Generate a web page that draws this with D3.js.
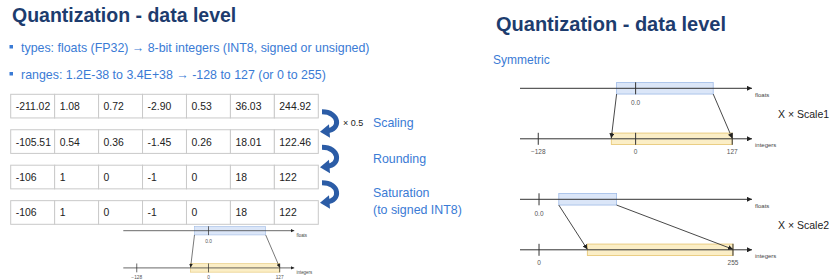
<!DOCTYPE html>
<html>
<head>
<meta charset="utf-8">
<script src="https://cdn.jsdelivr.net/npm/d3@7"></script>
<style>
  body { margin: 0; background: #fff; }
  svg { display: block; }
  text { font-family: "Liberation Sans", Arial, sans-serif; }
</style>
</head>
<body>
<svg id="chart" width="831" height="279"></svg>
<script>
// slide content
const title = 'Quantization - data level';
const bullets = [
  'types: floats (FP32) \u2192 8-bit integers (INT8, signed or unsigned)',
  'ranges: 1.2E-38 to 3.4E+38 \u2192 -128 to 127 (or 0 to 255)'
];
const tableRows = [
  ['-211.02', '1.08', '0.72', '-2.90', '0.53', '36.03', '244.92'],
  ['-105.51', '0.54', '0.36', '-1.45', '0.26', '18.01', '122.46'],
  ['-106', '1', '0', '-1', '0', '18', '122'],
  ['-106', '1', '0', '-1', '0', '18', '122']
];
const steps = [['Scaling'], ['Rounding'], ['Saturation', '(to signed INT8)']];
const stepFactors = ['\u00d7 0.5', '', ''];

// number lines, all in integer units
const symmetric = { domain: [-152, 153], floatTicks: [0], floatBox: [-25, 102], intTicks: [-128, 0, 127], intBox: [-32, 127], label: 'X \u00d7 Scale1' };
const asymmetric = { domain: [-25, 280], floatTicks: [0], floatBox: [26, 102], intTicks: [0, 255], intBox: [63.5, 255], label: 'X \u00d7 Scale2' };

const svg = d3.select('#chart');
const navy = '#1d3c6e', blue = '#3a7bd5', arrowBlue = '#2b5ca6';

svg.append('defs').append('marker')
  .attr('id', 'tip').attr('viewBox', '0 0 6 6')
  .attr('refX', 6).attr('refY', 3)
  .attr('markerWidth', 5).attr('markerHeight', 5)
  .attr('markerUnits', 'userSpaceOnUse')
  .attr('orient', 'auto')
  .append('path').attr('d', 'M0,0L6,3L0,6Z').attr('fill', '#222');

// ---- left half ----
svg.append('text').attr('x', 12).attr('y', 22)
  .attr('font-size', 19.5).attr('font-weight', 'bold').attr('fill', navy)
  .text(title);

const bl = svg.append('g');
bullets.forEach((b, i) => {
  const y = 52 + i * 27;
  bl.append('rect').attr('x', 9.5).attr('y', y - 7).attr('width', 3.5).attr('height', 3.5).attr('fill', blue);
  bl.append('text').attr('x', 21).attr('y', y)
    .attr('font-size', 12.4).attr('fill', blue).text(b);
});

const col = d3.scaleBand().domain(d3.range(7)).range([10.7, 318.3]);
const row = d3.scaleBand().domain(d3.range(tableRows.length)).range([94.3, 224.3]).paddingInner(0.333);

const table = svg.append('g');
tableRows.forEach((r, ri) => {
  const g = table.append('g');
  g.selectAll('rect').data(r).join('rect')
    .attr('x', (d, ci) => col(ci)).attr('y', row(ri))
    .attr('width', col.bandwidth()).attr('height', row.bandwidth())
    .attr('fill', '#fff').attr('stroke', '#c9c9c9');
  g.selectAll('text').data(r).join('text')
    .attr('x', (d, ci) => col(ci) + 5).attr('y', row(ri) + row.bandwidth() / 2 + 4)
    .attr('font-size', 10.4).attr('fill', '#222')
    .text(d => d);
});

// curved step arrows between rows
steps.forEach((s, i) => {
  const yc = (row(i) + row.bandwidth() + row(i + 1)) / 2 - 1;
  const x0 = 322;
  const g = svg.append('g');
  g.append('path')
    .attr('d', `M${x0},${yc - 11} C${x0 + 18},${yc - 11} ${x0 + 19},${yc + 7} ${x0 + 5},${yc + 8}`)
    .attr('fill', 'none').attr('stroke', arrowBlue).attr('stroke-width', 5);
  g.append('path')
    .attr('d', `M${x0 - 2},${yc + 9} L${x0 + 7},${yc + 1.5} L${x0 + 8},${yc + 15}Z`)
    .attr('fill', arrowBlue);
  if (stepFactors[i]) {
    g.append('text').attr('x', 343).attr('y', yc + 3.5)
      .attr('font-size', 9).attr('fill', '#222').text(stepFactors[i]);
  }
  s.forEach((line, li) => {
    g.append('text').attr('x', 373).attr('y', yc + 4.5 + li * 17 - (s.length - 1) * 1.5)
      .attr('font-size', 12.4).attr('fill', blue).text(line);
  });
});

// ---- number line diagram ----
function numberLine(spec, tx, ty, k, withLabel) {
  const g = svg.append('g').attr('transform', `translate(${tx},${ty}) scale(${k})`);
  const x = d3.scaleLinear().domain(spec.domain).range([0, 232]);
  const gap = 50.5, bh = 11.5;
  const fmtF = d3.format('.1f'), fmtI = d3.format('d');

  // boxes
  g.append('rect').attr('x', x(spec.floatBox[0])).attr('y', -bh / 2)
    .attr('width', x(spec.floatBox[1]) - x(spec.floatBox[0])).attr('height', bh)
    .attr('fill', '#dbe6f8').attr('stroke', '#9fbbe6').attr('stroke-width', 0.8);
  g.append('rect').attr('x', x(spec.intBox[0])).attr('y', gap - bh / 2)
    .attr('width', x(spec.intBox[1]) - x(spec.intBox[0])).attr('height', bh)
    .attr('fill', '#fbeec6').attr('stroke', '#e5c46e').attr('stroke-width', 0.8);

  // axes
  [[0, 'floats'], [gap, 'integers']].forEach(([y, name]) => {
    g.append('line').attr('x1', 0).attr('x2', 232).attr('y1', y).attr('y2', y)
      .attr('stroke', '#333').attr('stroke-width', 1).attr('marker-end', 'url(#tip)');
    g.append('text').attr('x', 235).attr('y', y + 8.5)
      .attr('font-size', 6).attr('fill', '#444').text(name);
  });

  // ticks
  g.selectAll('.ft').data(spec.floatTicks).join('g').attr('class', 'ft')
    .each(function (d) {
      const t = d3.select(this);
      t.append('line').attr('x1', x(d)).attr('x2', x(d)).attr('y1', -6).attr('y2', 6).attr('stroke', '#333');
      t.append('text').attr('x', x(d)).attr('y', 16.5).attr('text-anchor', 'middle')
        .attr('font-size', 6.5).attr('fill', '#555').text(fmtF(d));
    });
  g.selectAll('.it').data(spec.intTicks).join('g').attr('class', 'it')
    .each(function (d) {
      const t = d3.select(this);
      t.append('line').attr('x1', x(d)).attr('x2', x(d)).attr('y1', gap - 6).attr('y2', gap + 6).attr('stroke', '#333');
      t.append('text').attr('x', x(d)).attr('y', gap + 15.5).attr('text-anchor', 'middle')
        .attr('font-size', 6.5).attr('fill', '#555').text(fmtI(d));
    });

  // mapping arrows
  [0, 1].forEach(j => {
    g.append('line')
      .attr('x1', x(spec.floatBox[j])).attr('y1', bh / 2)
      .attr('x2', x(spec.intBox[j])).attr('y2', gap - 0.5)
      .attr('stroke', '#333').attr('stroke-width', 0.9).attr('marker-end', 'url(#tip)');
  });

  if (withLabel) {
    svg.append('text').attr('x', 778).attr('y', ty + gap / 2 + 4)
      .attr('font-size', 10.5).attr('fill', '#222')
      .text(spec.label);
  }
}

numberLine(symmetric, 123.3, 230.7, 0.737, false);

// ---- right half ----
svg.append('text').attr('x', 496).attr('y', 31)
  .attr('font-size', 20).attr('font-weight', 'bold').attr('fill', navy)
  .text(title);
svg.append('text').attr('x', 493).attr('y', 64)
  .attr('font-size', 12).attr('fill', blue).text('Symmetric');

numberLine(symmetric, 520, 88.3, 1, true);
numberLine(asymmetric, 520, 199.3, 1, true);
</script>
</body>
</html>
